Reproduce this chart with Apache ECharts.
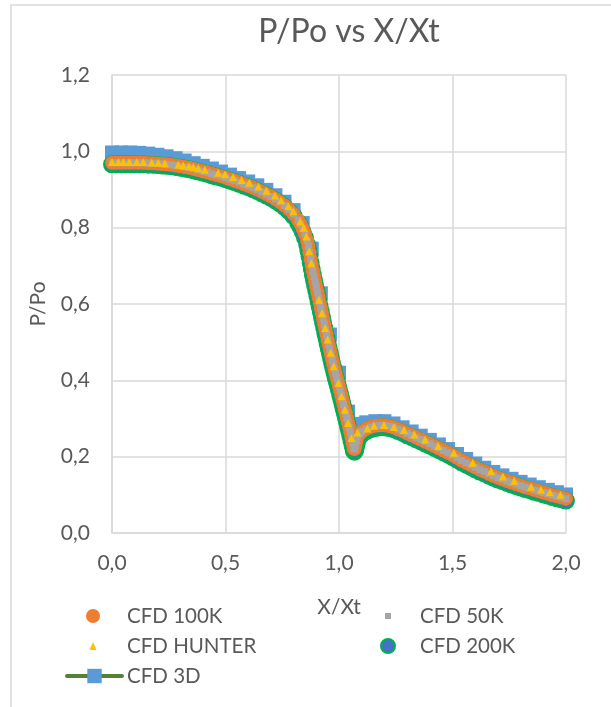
<!DOCTYPE html>
<html>
<head>
<meta charset="utf-8">
<script src="https://cdn.jsdelivr.net/npm/echarts@6/dist/echarts.min.js"></script>
<style>
html,body{margin:0;padding:0;background:#fff;}
#c{width:611px;height:707px;}
</style>
</head>
<body>
<div id="c"></div>
<script>
// ---- data ----
const xTicks = [0, 0.5, 1.0, 1.5, 2.0];
const yTicks = [0, 0.2, 0.4, 0.6, 0.8, 1.0, 1.2];

const xDense = [0.00,0.02,0.04,0.06,0.08,0.10,0.12,0.14,0.16,0.18,0.20,0.22,0.24,0.26,0.28,0.30,0.32,0.34,0.36,0.38,0.40,0.42,0.44,0.46,0.48,0.50,0.52,0.54,0.56,0.58,0.60,0.62,0.64,0.66,0.68,0.70,0.72,0.74,0.76,0.78,0.80,0.82,0.83,0.84,0.85,0.86,0.865,
0.870,0.875,0.880,0.885,0.890,0.895,0.900,0.905,0.910,0.915,0.920,0.925,0.930,0.935,0.940,0.945,0.950,0.955,0.960,0.965,0.970,0.975,0.980,0.985,0.990,0.995,1.000,1.005,1.010,1.015,1.020,1.025,1.030,1.035,1.040,1.045,1.050,1.055,1.060,1.065,1.068,1.072,1.076,1.080,1.090,1.100,
1.12,1.14,1.16,1.18,1.20,1.22,1.24,1.26,1.28,1.30,1.32,1.34,1.36,1.38,1.40,1.42,1.44,1.46,1.48,1.50,1.52,1.54,1.56,1.58,1.60,1.62,1.64,1.66,1.68,1.70,1.72,1.74,1.76,1.78,1.80,1.82,1.84,1.86,1.88,1.90,1.92,1.94,1.96,1.98,2.00];

const y100K = [0.970,0.970,0.970,0.970,0.970,0.970,0.970,0.970,0.969,0.969,0.968,0.967,0.966,0.965,0.963,0.961,0.959,0.957,0.954,0.951,0.948,0.945,0.941,0.938,0.935,0.931,0.927,0.923,0.919,0.914,0.910,0.905,0.900,0.894,0.888,0.882,0.875,0.867,0.858,0.848,0.836,0.820,0.810,0.798,0.784,0.766,0.752,
0.735,0.718,0.702,0.686,0.672,0.658,0.645,0.631,0.617,0.603,0.589,0.575,0.561,0.547,0.533,0.520,0.506,0.493,0.480,0.467,0.454,0.442,0.430,0.418,0.407,0.396,0.385,0.373,0.361,0.349,0.337,0.325,0.313,0.301,0.289,0.277,0.264,0.250,0.235,0.222,0.220,0.228,0.240,0.250,0.260,0.266,
0.273,0.278,0.281,0.282,0.282,0.280,0.277,0.272,0.267,0.261,0.256,0.250,0.245,0.239,0.234,0.228,0.222,0.216,0.210,0.204,0.197,0.190,0.184,0.178,0.172,0.166,0.161,0.155,0.150,0.145,0.141,0.136,0.132,0.128,0.124,0.120,0.117,0.113,0.110,0.106,0.103,0.099,0.096,0.093,0.090];

const y50K = [0.970,0.970,0.970,0.970,0.970,0.970,0.970,0.970,0.969,0.969,0.968,0.967,0.966,0.965,0.963,0.961,0.959,0.957,0.954,0.951,0.948,0.945,0.941,0.938,0.935,0.931,0.927,0.923,0.919,0.914,0.910,0.905,0.900,0.894,0.888,0.882,0.875,0.867,0.858,0.848,0.836,0.820,0.810,0.798,0.784,0.766,0.752,
0.735,0.718,0.702,0.686,0.672,0.658,0.645,0.631,0.617,0.603,0.589,0.575,0.561,0.547,0.533,0.520,0.506,0.493,0.480,0.467,0.454,0.442,0.430,0.418,0.407,0.396,0.385,0.373,0.361,0.349,0.337,0.325,0.313,0.301,0.289,0.277,0.264,0.250,0.235,0.222,0.220,0.228,0.240,0.250,0.260,0.266,
0.273,0.278,0.281,0.282,0.282,0.280,0.277,0.272,0.267,0.261,0.256,0.250,0.245,0.239,0.234,0.228,0.222,0.216,0.210,0.204,0.197,0.190,0.184,0.178,0.172,0.166,0.161,0.155,0.150,0.145,0.141,0.136,0.132,0.128,0.124,0.120,0.117,0.113,0.110,0.106,0.103,0.099,0.096,0.093,0.090];

const y200K = [0.966,0.966,0.966,0.966,0.966,0.966,0.966,0.966,0.965,0.965,0.964,0.963,0.962,0.961,0.959,0.957,0.955,0.953,0.950,0.947,0.944,0.941,0.937,0.934,0.931,0.927,0.923,0.919,0.915,0.910,0.906,0.901,0.896,0.890,0.884,0.878,0.871,0.863,0.854,0.843,0.830,0.813,0.802,0.789,0.774,0.755,0.740,
0.725,0.708,0.692,0.676,0.662,0.648,0.635,0.621,0.607,0.593,0.579,0.565,0.551,0.537,0.523,0.510,0.496,0.483,0.470,0.457,0.444,0.432,0.420,0.408,0.397,0.386,0.375,0.363,0.351,0.339,0.327,0.315,0.303,0.291,0.279,0.267,0.254,0.241,0.228,0.216,0.213,0.218,0.229,0.240,0.252,0.259,
0.267,0.272,0.275,0.277,0.277,0.275,0.272,0.267,0.262,0.256,0.251,0.245,0.240,0.234,0.229,0.223,0.217,0.211,0.205,0.199,0.192,0.185,0.179,0.173,0.167,0.161,0.156,0.150,0.145,0.140,0.136,0.131,0.127,0.123,0.119,0.115,0.112,0.108,0.105,0.101,0.098,0.094,0.091,0.088,0.085];

const x3D = [0.00,0.04,0.08,0.12,0.16,0.20,0.24,0.28,0.32,0.36,0.40,0.44,0.48,0.52,0.56,0.60,0.64,0.68,0.72,0.76,0.80,0.84,0.88,0.92,0.96,1.00,1.04,1.08,1.12,1.16,1.20,1.24,1.28,1.32,1.36,1.40,1.44,1.48,1.52,1.56,1.60,1.64,1.68,1.72,1.76,1.80,1.84,1.88,1.92,1.96,2.00];
const y3D = [0.997,0.997,0.997,0.996,0.994,0.991,0.987,0.982,0.976,0.969,0.962,0.955,0.947,0.939,0.930,0.921,0.911,0.899,0.885,0.868,0.846,0.812,0.745,0.628,0.520,0.420,0.318,0.286,0.290,0.293,0.293,0.287,0.277,0.266,0.255,0.244,0.232,0.220,0.207,0.194,0.182,0.171,0.160,0.151,0.142,0.134,0.127,0.120,0.113,0.107,0.101];

const xHunter = [0.000,0.028,0.050,0.076,0.109,0.138,0.175,0.204,0.233,0.292,0.314,0.339,0.358,0.380,0.409,0.468,0.498,0.534,0.571,0.605,0.645,0.681,0.718,0.745,0.777,0.799,0.829,0.845,0.856,0.869,0.878,0.912,0.925,0.939,0.950,0.963,0.977,0.997,1.011,1.026,1.040,1.055,1.081,1.125,1.154,1.198,1.242,1.286,1.332,1.379,1.437,1.506,1.589,1.670,1.722,1.772,1.846,1.890,1.929,1.976];
const yHunter = [0.972,0.972,0.972,0.972,0.972,0.972,0.971,0.970,0.969,0.965,0.963,0.961,0.959,0.956,0.952,0.944,0.940,0.933,0.925,0.918,0.908,0.897,0.884,0.872,0.856,0.843,0.816,0.800,0.777,0.738,0.707,0.611,0.576,0.537,0.507,0.472,0.437,0.393,0.358,0.323,0.288,0.249,0.263,0.274,0.281,0.283,0.278,0.270,0.258,0.245,0.228,0.210,0.184,0.162,0.148,0.137,0.121,0.113,0.107,0.100];

// ---- build ----
const zip = (xs, ys) => xs.map((x, i) => [x, ys[i]]);
const FONT = 'Lato';
const TXT = '#595959';
const GRID = '#d9d9d9';
const fmt = v => v.toFixed(1).replace('.', ',');

function legendFor(name, left, top, w, h, padLeft, extra) {
  return Object.assign({
    data: [{ name: name }], orient: 'vertical', left: left, top: top,
    itemWidth: w, itemHeight: h, padding: 0, selectedMode: false,
    textStyle: { color: TXT, fontSize: 20.5, fontFamily: FONT, padding: [0, 0, 0, padLeft] }
  }, extra || {});
}

const chart = echarts.init(document.getElementById('c'), null, { renderer: 'canvas' });
chart.setOption({
  animation: false,
  backgroundColor: '#ffffff',
  title: {
    text: 'P/Po vs X/Xt', left: 349, top: 16, textAlign: 'center', padding: 0,
    textStyle: { color: TXT, fontSize: 32, fontWeight: 'normal', fontFamily: FONT }
  },
  graphic: [{
    type: 'rect', silent: true, z: -10,
    shape: { x: 11, y: 5, width: 700, height: 800 },
    style: { fill: 'none', stroke: GRID, lineWidth: 1.5 }
  }],
  grid: { left: 112, right: 45, top: 75, bottom: 174, outerBoundsMode: 'none' },
  xAxis: {
    type: 'value', min: xTicks[0], max: xTicks[xTicks.length - 1], interval: 0.5,
    name: 'X/Xt', nameLocation: 'middle', nameGap: 64,
    nameTextStyle: { color: TXT, fontSize: 21, fontFamily: FONT },
    axisLine: { show: true, lineStyle: { color: GRID, width: 1.5 } },
    axisTick: { show: false },
    splitLine: { show: true, lineStyle: { color: GRID, width: 1.5 } },
    axisLabel: { color: TXT, fontSize: 21, fontFamily: FONT, margin: 20, formatter: fmt }
  },
  yAxis: {
    type: 'value', min: yTicks[0], max: yTicks[yTicks.length - 1], interval: 0.2,
    name: 'P/Po', nameLocation: 'middle', nameGap: 63,
    nameTextStyle: { color: TXT, fontSize: 21, fontFamily: FONT },
    axisLine: { show: true, lineStyle: { color: GRID, width: 1.5 } },
    axisTick: { show: false },
    splitLine: { show: true, lineStyle: { color: GRID, width: 1.5 } },
    axisLabel: { color: TXT, fontSize: 21, fontFamily: FONT, margin: 22, formatter: fmt }
  },
  legend: [
    legendFor('CFD 100K', 86, 605.5, 14, 14, 22),
    legendFor('CFD HUNTER', 89.5, 635.5, 7, 8, 25.5),
    legendFor('CFD 3D', 65, 665.5, 55, 18, 0, { lineStyle: { color: '#548235', width: 4, cap: 'round' } }),
    legendFor('CFD 50K', 385, 605.5, 6, 6, 24),
    legendFor('CFD 200K', 380, 635.5, 14, 14, 20, { itemStyle: { borderColor: '#00B050', borderWidth: 2 } })
  ],
  series: [
    {
      name: 'CFD 3D', type: 'line', data: zip(x3D, y3D), clip: false, z: 1,
      symbol: 'rect', symbolSize: 14, showSymbol: true,
      lineStyle: { color: '#548235', width: 4 },
      itemStyle: { color: '#5B9BD5' }
    },
    {
      name: 'CFD 200K', type: 'scatter', data: zip(xDense, y200K), clip: false, z: 2,
      symbol: 'circle', symbolSize: 16,
      itemStyle: { color: '#4472C4', borderColor: '#00B050', borderWidth: 2, opacity: 1 }
    },
    {
      name: 'CFD 100K', type: 'scatter', data: zip(xDense, y100K), clip: false, z: 3,
      symbol: 'circle', symbolSize: 14,
      itemStyle: { color: '#ED7D31', opacity: 1 }
    },
    {
      name: 'CFD 50K', type: 'scatter', data: zip(xDense, y50K), clip: false, z: 4,
      symbol: 'rect', symbolSize: 7,
      itemStyle: { color: '#A5A5A5', opacity: 1 }
    },
    {
      name: 'CFD HUNTER', type: 'scatter', data: zip(xHunter, yHunter), clip: false, z: 5,
      symbol: 'triangle', symbolSize: 8,
      itemStyle: { color: '#FFC000', opacity: 1 }
    }
  ]
});
</script>
</body>
</html>
